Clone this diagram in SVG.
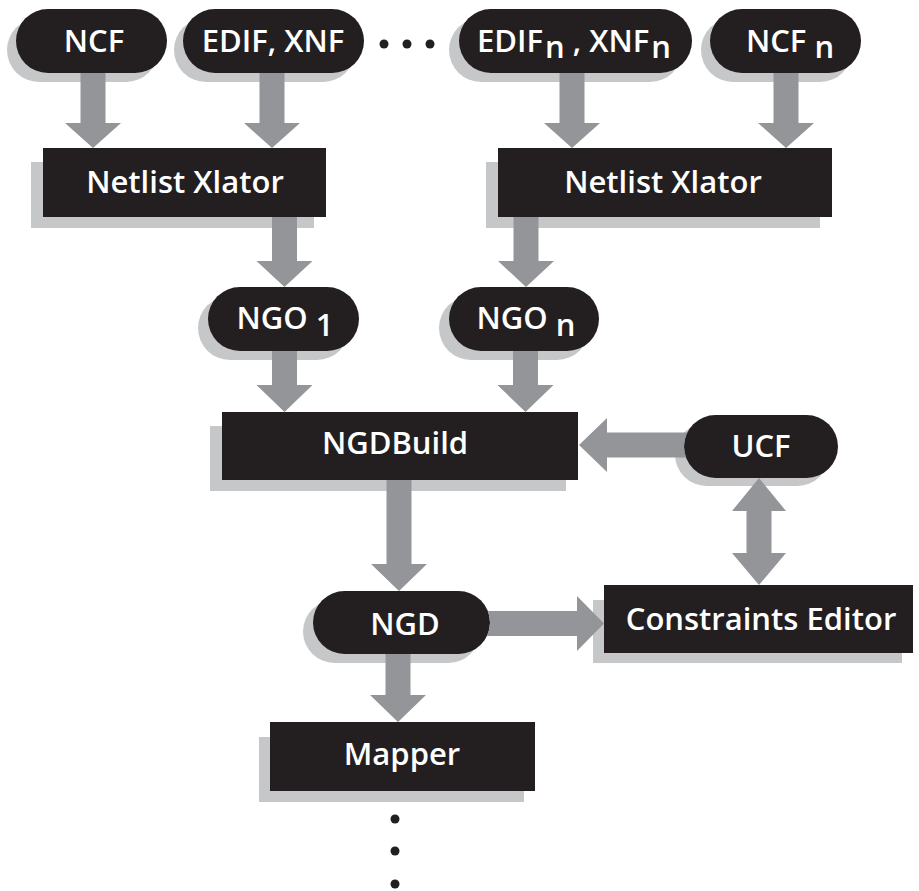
<svg xmlns="http://www.w3.org/2000/svg" width="919" height="891" viewBox="0 0 919 891">
<style>
.bg{fill:#ffffff}
.sh{fill:#c6c7c8}
.nd{fill:#231f20}
.ar{fill:#939598}
.dot{fill:#231f20}
.t{font-family:"Open Sans","Liberation Sans",Arial,sans-serif;font-weight:600;font-size:31px;fill:#ffffff;text-anchor:middle}
</style>
<rect class="bg" x="0" y="0" width="919" height="891"/>
<g id="node-ncf">
  <rect class="sh" x="7" y="18" width="151" height="64" rx="32"/>
  <rect class="nd" x="16" y="9" width="151" height="64" rx="32"/>
  <text class="t" x="94" y="52">NCF</text>
</g>
<g id="node-edif-xnf">
  <rect class="sh" x="174" y="18" width="181" height="64" rx="32"/>
  <rect class="nd" x="183" y="9" width="181" height="64" rx="32"/>
  <text class="t" x="273" y="52">EDIF, XNF</text>
</g>
<g id="ellipsis-top">
  <circle class="dot" cx="384" cy="44" r="4.5"/>
  <circle class="dot" cx="407" cy="44" r="4.5"/>
  <circle class="dot" cx="430" cy="44" r="4.5"/>
</g>
<g id="node-edif-xnf-n">
  <rect class="sh" x="449" y="18" width="233" height="64" rx="32"/>
  <rect class="nd" x="459" y="9" width="233" height="64" rx="32"/>
  <text class="t" x="574" y="52">EDIF<tspan dx="2" dy="6">n</tspan><tspan dy="-6"> , XNF</tspan><tspan dx="2" dy="6">n</tspan></text>
</g>
<g id="node-ncf-n">
  <rect class="sh" x="701" y="18" width="151" height="64" rx="32"/>
  <rect class="nd" x="710" y="9" width="151" height="64" rx="32"/>
  <text class="t" x="790" y="52">NCF<tspan dy="6"> n</tspan></text>
</g>
<g id="node-xlator-1">
  <rect class="sh" x="31" y="162" width="283" height="66"/>
  <rect class="nd" x="43" y="148" width="283" height="69"/>
  <text class="t" x="185" y="193">Netlist Xlator</text>
</g>
<g id="node-xlator-n">
  <rect class="sh" x="486" y="162" width="334" height="66"/>
  <rect class="nd" x="498" y="148" width="334" height="69"/>
  <text class="t" x="663" y="193">Netlist Xlator</text>
</g>
<g id="node-ngo-1">
  <rect class="sh" x="198" y="296" width="151" height="64" rx="32"/>
  <rect class="nd" x="208" y="287" width="151" height="64" rx="32"/>
  <text class="t" x="285" y="329">NGO<tspan dy="7"> 1</tspan></text>
</g>
<g id="node-ngo-n">
  <rect class="sh" x="439" y="296" width="150" height="64" rx="32"/>
  <rect class="nd" x="449" y="287" width="150" height="64" rx="32"/>
  <text class="t" x="526" y="329">NGO<tspan dy="7"> n</tspan></text>
</g>
<g id="node-ngdbuild">
  <rect class="sh" x="210" y="426" width="356" height="65"/>
  <rect class="nd" x="222" y="412" width="356" height="68"/>
  <text class="t" x="395" y="454">NGDBuild</text>
</g>
<g id="node-ucf">
  <rect class="sh" x="675" y="423" width="154" height="63" rx="31.5"/>
  <rect class="nd" x="684" y="415" width="154" height="63" rx="31.5"/>
  <text class="t" x="761" y="457">UCF</text>
</g>
<g id="node-ngd">
  <rect class="sh" x="303" y="600" width="177" height="63" rx="31.5"/>
  <rect class="nd" x="313" y="591" width="177" height="63" rx="31.5"/>
  <text class="t" x="405" y="635">NGD</text>
</g>
<g id="node-constraints-editor">
  <rect class="sh" x="593" y="600" width="309" height="63"/>
  <rect class="nd" x="604" y="585" width="309" height="68"/>
  <text class="t" x="761" y="630">Constraints Editor</text>
</g>
<g id="node-mapper">
  <rect class="sh" x="259" y="737" width="265" height="65"/>
  <rect class="nd" x="270" y="722" width="265" height="69"/>
  <text class="t" x="402" y="765">Mapper</text>
</g>
<g id="ellipsis-bottom">
  <circle class="dot" cx="395" cy="819" r="4.5"/>
  <circle class="dot" cx="395" cy="851" r="4.5"/>
  <circle class="dot" cx="395" cy="884" r="4.5"/>
</g>
<g id="connectors">
  <polygon class="ar" points="80.5,73 105.5,73 105.5,123 121,123 93,148 65,123 80.5,123"/>
  <polygon class="ar" points="259.5,73 284.5,73 284.5,123 300,123 272,148 244,123 259.5,123"/>
  <polygon class="ar" points="559.5,73 584.5,73 584.5,123 600,123 572,148 544,123 559.5,123"/>
  <polygon class="ar" points="773.5,73 798.5,73 798.5,123 814,123 786,148 758,123 773.5,123"/>
  <polygon class="ar" points="272,217 297,217 297,261 312.5,261 284.5,287 256.5,261 272,261"/>
  <polygon class="ar" points="513.5,217 538.5,217 538.5,261 554,261 526,287 498,261 513.5,261"/>
  <polygon class="ar" points="272,351 297,351 297,385 312.5,385 284.5,412 256.5,385 272,385"/>
  <polygon class="ar" points="513,351 538,351 538,385 553.5,385 525.5,412 497.5,385 513,385"/>
  <polygon class="ar" points="386.5,480 411.5,480 411.5,564 427,564 399,591 371,564 386.5,564"/>
  <polygon class="ar" points="385.5,654 410.5,654 410.5,695 426,695 398,722 370,695 385.5,695"/>
  <path class="ar" d="M487.8 611 L577 611 L577 596 L604 623.5 L577 651 L577 636 L487 636 A31.5 31.5 0 0 0 487.8 611 Z"/>
  <path class="ar" d="M579 445 L607 418 L607 432.5 L687.3 432.5 A31.5 31.5 0 0 0 686 457.5 L607 457.5 L607 472 Z"/>
  <polygon class="ar" points="759,478 786,511 771.5,511 771.5,553 786,553 759,585 732,553 746.5,553 746.5,511 732,511"/>
</g>
</svg>
